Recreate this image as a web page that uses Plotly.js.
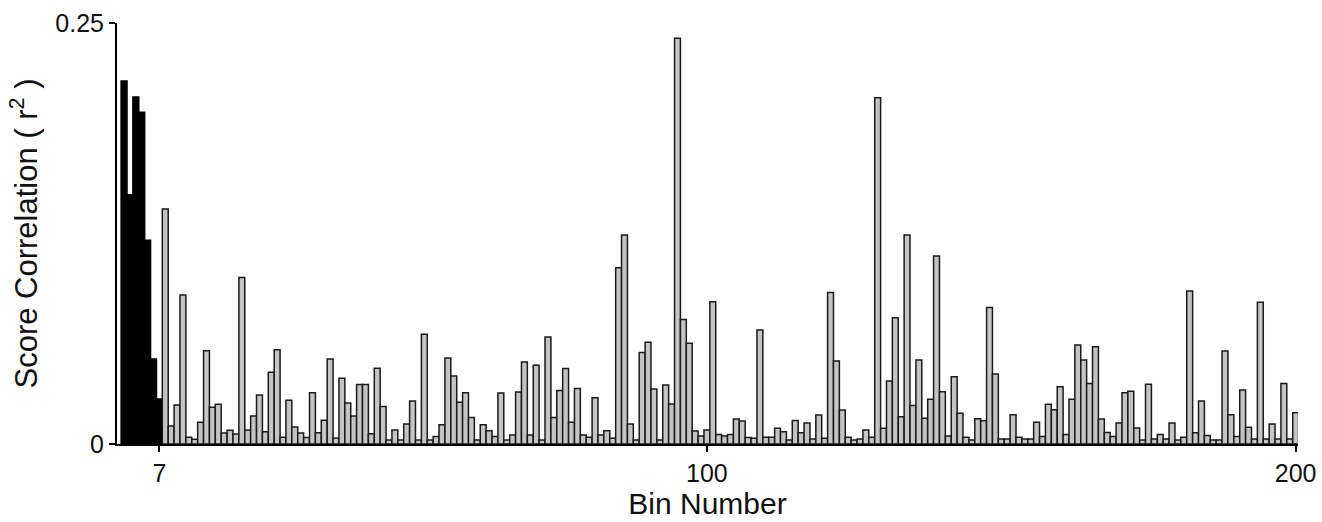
<!DOCTYPE html>
<html>
<head>
<meta charset="utf-8">
<script src="https://cdn.plot.ly/plotly-3.0.1.min.js"></script>
<style>
  html, body { margin: 0; padding: 0; background: #ffffff; }
  #chart { width: 1322px; height: 522px; }
</style>
</head>
<body>
<div id="chart"></div>
<script>
// Bins 1-7 (highlighted, black)
const topBins = [1, 2, 3, 4, 5, 6, 7];
const topValues = [0.2156, 0.148, 0.206, 0.197, 0.121, 0.0505, 0.0267];

// Bins 8-200 (grey)
const otherValues = [
  0.1396, 0.0107, 0.0232, 0.0885, 0.004, 0.0028, 0.0129, 0.0554, 0.0218, 0.0236,   // 8-17
  0.0066, 0.0081, 0.0059, 0.0988, 0.0083, 0.0166, 0.0291, 0.0073, 0.0426, 0.056,    // 18-27
  0.004, 0.026, 0.0101, 0.0065, 0.0038, 0.0305, 0.0067, 0.0141, 0.0505, 0.0036,     // 28-37
  0.039, 0.0243, 0.0166, 0.0354, 0.0354, 0.0061, 0.045, 0.0222, 0.0024, 0.0083,     // 38-47
  0.0024, 0.0119, 0.0255, 0.0024, 0.0651, 0.0024, 0.0044, 0.0115, 0.0511, 0.0404,   // 48-57
  0.0248, 0.0305, 0.0158, 0.0024, 0.0115, 0.0079, 0.0044, 0.0303, 0.0024, 0.0053,   // 58-67
  0.0309, 0.0487, 0.0053, 0.0467, 0.0024, 0.0635, 0.0158, 0.0317, 0.0449, 0.0129,   // 68-77
  0.033, 0.0053, 0.004, 0.0275, 0.0053, 0.0079, 0.0034, 0.1047, 0.1241, 0.0119,     // 78-87
  0.0024, 0.0544, 0.0604, 0.0327, 0.0024, 0.035, 0.0237, 0.241, 0.074, 0.0598,      // 88-97
  0.0077, 0.0048, 0.0083, 0.0845, 0.0057, 0.0048, 0.0057, 0.0148, 0.0137, 0.0038,   // 98-107
  0.0034, 0.0677, 0.004, 0.004, 0.0093, 0.0073, 0.0024, 0.0139, 0.0067, 0.0125,     // 108-117
  0.003, 0.0172, 0.0034, 0.0899, 0.0493, 0.0202, 0.004, 0.0024, 0.003, 0.0083,      // 118-127
  0.004, 0.2056, 0.0093, 0.0374, 0.075, 0.0162, 0.1241, 0.0228, 0.0499, 0.0153,     // 128-137
  0.0265, 0.1116, 0.031, 0.0048, 0.04, 0.0182, 0.004, 0.0024, 0.015, 0.0138,        // 138-147
  0.081, 0.0416, 0.003, 0.003, 0.0174, 0.004, 0.003, 0.003, 0.0129, 0.0044,         // 148-157
  0.0236, 0.0204, 0.034, 0.0057, 0.0265, 0.0588, 0.0499, 0.036, 0.0578, 0.0148,     // 158-167
  0.0069, 0.0044, 0.0125, 0.0305, 0.0313, 0.0095, 0.0024, 0.0355, 0.003, 0.0057,    // 168-177
  0.003, 0.0125, 0.0024, 0.004, 0.0909, 0.0067, 0.0255, 0.005, 0.0024, 0.0024,      // 178-187
  0.0552, 0.0174, 0.0044, 0.0321, 0.0099, 0.003, 0.0842, 0.003, 0.0119, 0.003,      // 188-197
  0.036, 0.003, 0.0186                                                              // 198-200
];
const otherBins = otherValues.map((_, i) => i + 8);

const xTickVals = [7, 100, 200];
const xTickText = ['7', '100', '200'];
const yTickVals = [0, 0.25];
const yTickText = ['0', '0.25'];

const FONT = 'Liberation Sans, Arial, Helvetica, sans-serif';

const traces = [
  {
    type: 'bar', x: topBins, y: topValues,
    marker: { color: '#000000', line: { color: '#000000', width: 1.5 } },
    hoverinfo: 'x+y', showlegend: false
  },
  {
    type: 'bar', x: otherBins, y: otherValues,
    marker: { color: '#c4c4c4', line: { color: '#1a1a1a', width: 1.5 } },
    hoverinfo: 'x+y', showlegend: false
  }
];

const layout = {
  width: 1322, height: 522,
  margin: { l: 117, r: 24, t: 23, b: 78, pad: 0 },
  paper_bgcolor: '#ffffff', plot_bgcolor: '#ffffff',
  bargap: 0, barmode: 'overlay',
  font: { family: FONT, color: '#111111', size: 25 },
  xaxis: {
    range: [-0.2, 200.4],
    showgrid: false, zeroline: false,
    showline: true, linecolor: '#000000', linewidth: 2,
    ticks: 'outside', ticklen: 6, tickwidth: 2, tickcolor: '#000000',
    tickmode: 'array', tickvals: xTickVals, ticktext: xTickText,
    tickfont: { family: FONT, size: 25, color: '#111111' },
    title: { text: 'Bin Number', font: { family: FONT, size: 30, color: '#111111' }, standoff: 7 }
  },
  yaxis: {
    range: [0, 0.25],
    showgrid: false, zeroline: false,
    showline: true, linecolor: '#000000', linewidth: 2,
    ticks: 'outside', ticklen: 6, tickwidth: 2, tickcolor: '#000000',
    tickmode: 'array', tickvals: yTickVals, ticktext: yTickText,
    tickfont: { family: FONT, size: 25, color: '#111111' },
    title: { text: 'Score Correlation ( r<sup>2</sup> )', font: { family: FONT, size: 31, color: '#111111' }, standoff: 8 }
  }
};

Plotly.newPlot('chart', traces, layout, { displayModeBar: false, staticPlot: true });
</script>
</body>
</html>
